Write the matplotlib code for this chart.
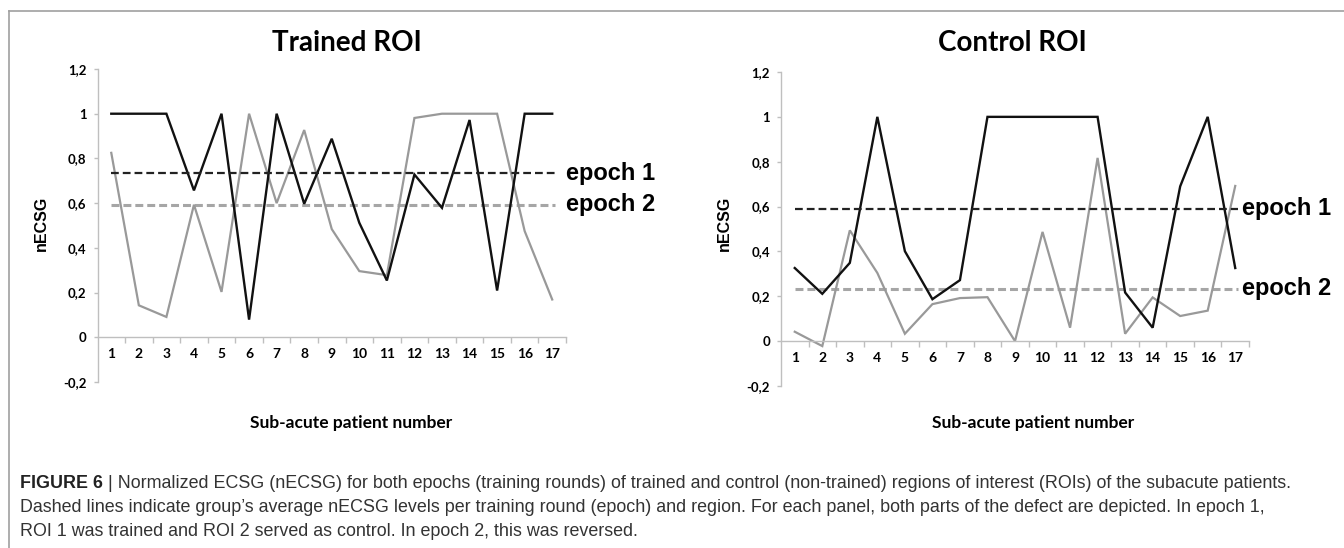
import matplotlib
matplotlib.use('Agg')
import matplotlib.pyplot as plt
from matplotlib.lines import Line2D
import numpy as np

# data
patients = list(range(1, 18))

trained_epoch1 = [1.0, 1.0, 1.0, 0.657, 1.0, 0.079, 1.0, 0.597, 0.888, 0.512,
                  0.254, 0.728, 0.579, 0.972, 0.209, 1.0, 1.0]
trained_epoch2 = [0.825, 0.143, 0.091, 0.593, 0.203, 1.0, 0.60, 0.927, 0.484, 0.296,
                  0.278, 0.981, 1.0, 1.0, 1.0, 0.475, 0.169]
trained_mean = [0.733, 0.593]

control_epoch1 = [0.326, 0.211, 0.349, 1.0, 0.401, 0.187, 0.272, 1.0, 1.0, 1.0,
                  1.0, 1.0, 0.217, 0.06, 0.69, 1.0, 0.326]
control_epoch2 = [0.042, -0.022, 0.494, 0.304, 0.033, 0.165, 0.192, 0.196, 0.0, 0.487,
                  0.06, 0.817, 0.033, 0.195, 0.112, 0.136, 0.692]
control_mean = [0.591, 0.234]

yticks = [-0.2, 0, 0.2, 0.4, 0.6, 0.8, 1.0, 1.2]
ytick_labels = ['-0,2', '0', '0,2', '0,4', '0,6', '0,8', '1', '1,2']

caption_bold = 'FIGURE 6'
caption_lines = [
    ' | Normalized ECSG (nECSG) for both epochs (training rounds) of trained and control '
    '(non-trained) regions of interest (ROIs) of the subacute patients.',
    'Dashed lines indicate group\u2019s average nECSG levels per training round (epoch) and region. '
    'For each panel, both parts of the defect are depicted. In epoch 1,',
    'ROI 1 was trained and ROI 2 served as control. In epoch 2, this was reversed.',
]

W, H = 1344, 548
fig = plt.figure(figsize=(W / 100, H / 100), dpi=100)
fig.patch.set_facecolor('white')

AX_GRAY = '#bfbfbf'
LINE_GRAY = '#999999'
DASH_GRAY = '#a6a6a6'
TICK_FONT = 'Lato'


def draw_panel(rect, title, title_x, xlabel_x, ylabel_x, e1, e2, means, label_x):
    ax = fig.add_axes(rect)
    ax.plot(patients, e1, color='#111111', lw=1.7, solid_joinstyle='miter', zorder=3)
    ax.plot(patients, e2, color=LINE_GRAY, lw=1.6, solid_joinstyle='miter', zorder=2)
    ax.hlines(means[0], 1, 17.1, colors='#222222', lw=1.6, linestyles=(0, (3.5, 1.8)), zorder=4)
    ax.hlines(means[1], 1, 17.1, colors=DASH_GRAY, lw=2.2, linestyles=(0, (2.6, 1.3)), zorder=1)
    for i, m in enumerate(means):
        ax.text(label_x, m, 'epoch %d' % (i + 1), fontsize=17, fontweight='bold',
                family='Liberation Sans', va='center', ha='left', color='black', clip_on=False)

    ax.set_xlim(0.5, 17.5)
    ax.set_ylim(-0.2, 1.2)
    for s in ['top', 'right']:
        ax.spines[s].set_visible(False)
    ax.spines['bottom'].set_position(('data', 0))
    ax.spines['bottom'].set_color(AX_GRAY)
    ax.spines['left'].set_color(AX_GRAY)
    ax.spines['bottom'].set_linewidth(1.0)
    ax.spines['left'].set_linewidth(1.0)

    ax.set_xticks(patients)
    ax.set_xticklabels([str(p) for p in patients], fontsize=10, fontweight='bold', family=TICK_FONT)
    ax.set_xticks(np.arange(1.5, 18, 1), minor=True)
    ax.tick_params(axis='x', which='major', length=0, pad=8)
    ax.tick_params(axis='x', which='minor', length=4, width=1, color=AX_GRAY, direction='out')

    ax.set_yticks(yticks)
    ax.set_yticklabels(ytick_labels, fontsize=9.5, fontweight='bold', family=TICK_FONT)
    ax.tick_params(axis='y', length=3, width=1, color=AX_GRAY, pad=5)

    fig.text(title_x, 1 - 43 / H, title, fontsize=20, fontweight='bold', family='Lato',
             ha='center', va='center')
    fig.text(xlabel_x, 1 - 423 / H, 'Sub-acute patient number', fontsize=12.5, fontweight='bold',
             family='Lato', ha='center', va='center')
    fig.text(ylabel_x, 1 - 223 / H, 'nECSG', fontsize=11.5, fontweight='bold',
             family='Liberation Sans', ha='center', va='center', rotation=90)
    return ax


draw_panel([97.5 / W, 1 - 382 / H, (566 - 97.5) / W, (382 - 69) / H], 'Trained ROI',
           347 / W, 351 / W, 41 / W, trained_epoch1, trained_epoch2, trained_mean, 17.5)
draw_panel([781 / W, 1 - 386 / H, (1249 - 781) / W, (386 - 72) / H], 'Control ROI',
           1012 / W, 1033 / W, 724 / W, control_epoch1, control_epoch2, control_mean, 17.25)

# frame around the figure
fig.add_artist(Line2D([9 / W, 1], [1 - 11 / H, 1 - 11 / H], transform=fig.transFigure,
                      color='#a0a0a0', lw=1.2))
fig.add_artist(Line2D([9 / W, 9 / W], [0, 1 - 11 / H], transform=fig.transFigure,
                      color='#a0a0a0', lw=1.2))

# caption
cap_font = 'Liberation Sans'
cap_size = 12.9
cap_color = '#333333'
y0 = 483
t = fig.text(20 / W, 1 - y0 / H, caption_bold, fontsize=cap_size, fontweight='bold',
             family=cap_font, va='center', ha='left', color='#222222')
fig.canvas.draw()
bb = t.get_window_extent()
fig.text(bb.x1 / W, 1 - y0 / H, caption_lines[0], fontsize=cap_size, family=cap_font,
         va='center', ha='left', color=cap_color)
for i, line in enumerate(caption_lines[1:]):
    fig.text(20 / W, 1 - (y0 + 24 * (i + 1)) / H, line, fontsize=cap_size, family=cap_font,
             va='center', ha='left', color=cap_color)

fig.savefig('out.png', dpi=100, facecolor='white')
